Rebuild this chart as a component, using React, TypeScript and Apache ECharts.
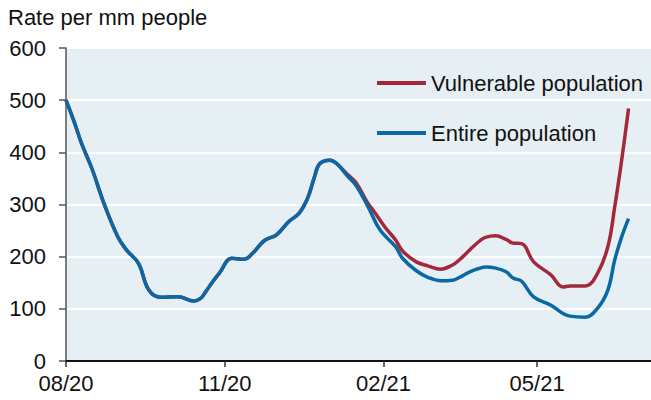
import React, { useEffect, useRef } from "react";
import * as echarts from "echarts";

const yAxisTitle = "Rate per mm people";
const seriesNames = ["Vulnerable population", "Entire population"];
const xTickDates = ["2020-08-01", "2020-11-01", "2021-02-01", "2021-05-01"];
const xMin = "2020-08-01";
const xMax = "2021-07-06";
const yTicks = [0, 100, 200, 300, 400, 500, 600];

const entireDates = [
  "2020-08-01", "2020-08-06", "2020-08-10", "2020-08-16", "2020-08-23", "2020-08-31",
  "2020-09-05", "2020-09-12", "2020-09-18", "2020-09-25", "2020-10-05", "2020-10-14",
  "2020-10-18", "2020-10-21", "2020-10-25", "2020-10-29", "2020-11-05", "2020-11-12",
  "2020-11-17", "2020-11-24", "2020-12-01", "2020-12-08", "2020-12-14", "2020-12-19",
  "2020-12-23", "2020-12-26", "2021-01-01", "2021-01-05", "2021-01-11", "2021-01-16",
  "2021-01-23", "2021-01-30", "2021-02-08", "2021-02-12", "2021-02-20", "2021-02-27",
  "2021-03-06", "2021-03-13", "2021-03-17", "2021-03-23", "2021-03-29", "2021-04-01",
  "2021-04-07", "2021-04-13", "2021-04-17", "2021-04-22", "2021-04-29", "2021-05-09",
  "2021-05-16", "2021-05-20", "2021-05-29", "2021-06-05", "2021-06-11", "2021-06-15",
  "2021-06-19", "2021-06-23",
];
const entireValues = [
  500, 456, 417, 369, 302, 238,
  213, 187, 136, 122, 123, 115,
  120, 133, 152, 169, 197, 195,
  206, 231, 242, 267, 283, 312,
  353, 378, 385, 378, 355, 337,
  296, 251, 219, 197, 173, 160,
  154, 155, 160, 171, 178, 180,
  178, 171, 159, 153, 123, 107,
  91, 86, 84, 101, 136, 194,
  238, 273,
];

const vulnerableDates = [
  "2020-08-01", "2020-08-06", "2020-08-10", "2020-08-16", "2020-08-23", "2020-08-31",
  "2020-09-05", "2020-09-12", "2020-09-18", "2020-09-25", "2020-10-05", "2020-10-14",
  "2020-10-18", "2020-10-21", "2020-10-25", "2020-10-29", "2020-11-05", "2020-11-12",
  "2020-11-17", "2020-11-24", "2020-12-01", "2020-12-08", "2020-12-14", "2020-12-19",
  "2020-12-23", "2020-12-26", "2021-01-01", "2021-01-05", "2021-01-11", "2021-01-16",
  "2021-01-23", "2021-01-26", "2021-02-02", "2021-02-08", "2021-02-12", "2021-02-20",
  "2021-02-27", "2021-03-06", "2021-03-13", "2021-03-17", "2021-03-23", "2021-03-29",
  "2021-04-01", "2021-04-07", "2021-04-13", "2021-04-17", "2021-04-22", "2021-04-29",
  "2021-05-09", "2021-05-16", "2021-05-20", "2021-05-29", "2021-06-05", "2021-06-11",
  "2021-06-15", "2021-06-19", "2021-06-23",
];
const vulnerableValues = [
  500, 456, 417, 369, 302, 238,
  213, 187, 136, 122, 123, 115,
  120, 133, 152, 169, 197, 195,
  206, 231, 242, 267, 283, 312,
  353, 378, 385, 378, 358, 342,
  302, 289, 256, 232, 211, 190,
  182, 176, 184, 194, 213, 231,
  237, 240, 233, 226, 225, 190,
  165, 142, 144, 144, 168, 219,
  296, 385, 484,
];

const RED = "#A3283B";
const BLUE = "#0A68A5";
const FONT = 'Arial, "Liberation Sans", Helvetica, sans-serif';

const toTs = (s: string) => {
  const [y, m, d] = s.split("-").map(Number);
  return new Date(y, m - 1, d).getTime();
};

export default function App() {
  const ref = useRef<HTMLDivElement>(null);

  useEffect(() => {
    if (!ref.current) return;
    const chart = echarts.init(ref.current, undefined, { renderer: "svg" });
    const tickTs = xTickDates.map(toTs);
    chart.setOption({
      animation: false,
      backgroundColor: "#ffffff",
      textStyle: { fontFamily: FONT },
      graphic: [
        {
          type: "text",
          left: 8,
          top: 6,
          style: { text: yAxisTitle, fontSize: 22, fontFamily: FONT, fill: "#111" },
        },
      ],
      legend: {
        orient: "vertical",
        left: 372,
        top: 66,
        icon: "rect",
        itemWidth: 49,
        itemHeight: 4,
        itemGap: 26,
        data: seriesNames,
        textStyle: { fontSize: 22, color: "#111", fontFamily: FONT, lineHeight: 24 },
      },
      grid: {
        left: 66,
        right: 0,
        top: 48,
        bottom: 39,
        show: true,
        backgroundColor: "#E6EFF3",
        borderWidth: 0,
        outerBoundsMode: "none",
        containLabel: false,
      },
      xAxis: {
        type: "value",
        min: toTs(xMin),
        max: toTs(xMax),
        axisLine: { show: true, lineStyle: { color: "#111", width: 2 } },
        axisTick: {
          show: true,
          length: 6,
          customValues: tickTs,
          lineStyle: { color: "#333", width: 1.5 },
        },
        axisLabel: {
          customValues: tickTs,
          fontSize: 22,
          color: "#111",
          margin: 11,
          fontFamily: FONT,
          formatter: (v: number) => {
            const d = new Date(v);
            const mm = String(d.getMonth() + 1).padStart(2, "0");
            const yy = String(d.getFullYear() % 100).padStart(2, "0");
            return `${mm}/${yy}`;
          },
        },
        splitLine: { show: false },
      },
      yAxis: {
        type: "value",
        min: yTicks[0],
        max: yTicks[yTicks.length - 1],
        interval: 100,
        axisLine: { show: true, lineStyle: { color: "#555", width: 1.5 } },
        axisTick: { show: true, length: 7, lineStyle: { color: "#555", width: 1.5 } },
        axisLabel: { fontSize: 22, color: "#111", margin: 20, fontFamily: FONT },
        splitLine: { show: true, lineStyle: { color: "#ffffff", width: 2 } },
      },
      series: [
        {
          name: seriesNames[0],
          type: "line",
          showSymbol: false,
          smooth: 0.4,
          color: RED,
          lineStyle: { color: RED, width: 3.5 },
          data: vulnerableDates.map((d, i) => [toTs(d), vulnerableValues[i]]),
          z: 2,
        },
        {
          name: seriesNames[1],
          type: "line",
          showSymbol: false,
          smooth: 0.4,
          color: BLUE,
          lineStyle: { color: BLUE, width: 3.5 },
          data: entireDates.map((d, i) => [toTs(d), entireValues[i]]),
          z: 3,
        },
      ],
    });
    return () => chart.dispose();
  }, []);

  return (
    <div
      ref={ref}
      style={{ position: "fixed", left: 0, top: 0, width: 651, height: 400 }}
    />
  );
}
